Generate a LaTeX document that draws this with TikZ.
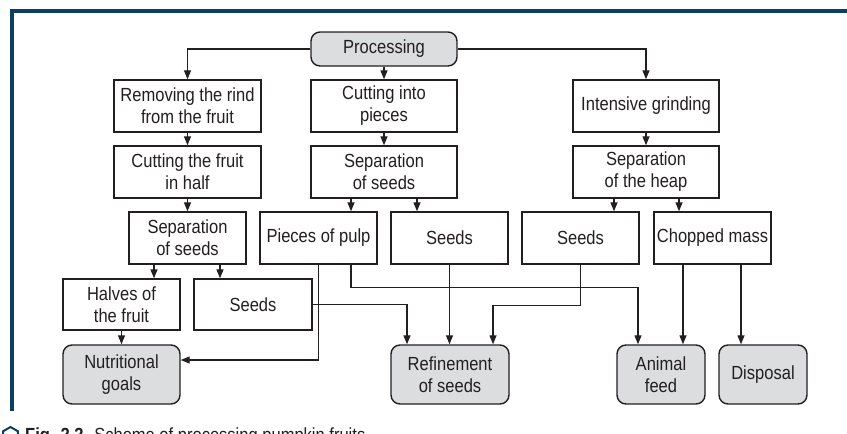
\documentclass[tikz,border=0pt]{standalone}
\usepackage{fontspec}
\setmainfont{Liberation Sans}[FakeStretch=0.87]
\usetikzlibrary{arrows.meta,shapes.geometric}
\definecolor{frameblue}{RGB}{12,62,98}
\definecolor{goalgray}{RGB}{220,221,222}
\definecolor{inkblack}{RGB}{35,31,32}

\begin{document}
\begin{tikzpicture}[x=1pt, y=-1pt,
    every node/.style={font=\fontsize{19}{22}\selectfont, text=inkblack, align=center, inner sep=0pt},
    stage/.style={draw=inkblack, line width=1.4pt, fill=white, minimum width=117pt, minimum height=52pt},
    outcome/.style={stage, fill=goalgray, rounded corners=9pt, minimum height=59pt},
    flow/.style={draw=inkblack, line width=1.3pt, -{Triangle[length=9pt,width=7pt]}}]
        \useasboundingbox (0,0) rectangle (847,434);

        % page frame
        \draw[frameblue, line width=4pt] (11.5,411) -- (11.5,11) -- (847,11);

        % root
        \node[outcome, minimum width=146pt, minimum height=34pt] (proc) at (384,49) {Processing};

        % left branch: halves of the fruit
        \node[stage, minimum width=147pt] (rind) at (187.5,106) {Removing the rind\\from the fruit};
        \node[stage, minimum width=147pt] (half) at (187.5,172) {Cutting the fruit\\in half};
        \node[stage] (sepL) at (187.5,238) {Separation\\of seeds};
        \node[stage, minimum height=51pt] (halves) at (121.5,304.5) {Halves of\\the fruit};
        \node[stage, minimum width=118pt, minimum height=51pt] (seedsL) at (253,304.5) {Seeds};

        % middle branch: pieces
        \node[stage, minimum width=146pt] (pieces) at (384,106) {Cutting into\\pieces};
        \node[stage, minimum width=146pt] (sepM) at (384,172) {Separation\\of seeds};
        \node[stage] (pulp) at (318.5,238) {Pieces of pulp};
        \node[stage] (seedsM) at (449.5,238) {Seeds};

        % right branch: grinding
        \node[stage, minimum width=146pt] (grind) at (646,106) {Intensive grinding};
        \node[stage, minimum width=146pt] (heap) at (646,172) {Separation\\of the heap};
        \node[stage] (seedsR) at (580.5,238) {Seeds};
        \node[stage] (chopped) at (712.5,238) {Chopped mass};

        % end uses
        \node[outcome] (nutri) at (121.5,374.5) {Nutritional\\goals};
        \node[outcome, minimum width=118pt] (refine) at (450,374.5) {Refinement\\of seeds};
        \node[outcome, minimum width=88pt] (feed) at (661,374.5) {Animal\\feed};
        \node[outcome, minimum width=88pt] (disp) at (763,374.5) {Disposal};

        % flows down the branches
        \draw[flow] (proc.west) -| (rind.north);
        \draw[flow] (proc.south) -- (pieces.north);
        \draw[flow] (proc.east) -| (grind.north);
        \draw[flow] (rind) -- (half);
        \draw[flow] (half) -- (sepL);
        \draw[flow] (pieces) -- (sepM);
        \draw[flow] (grind) -- (heap);
        \draw[flow] ([xshift=-33.5]sepL.south) -- ([xshift=-33.5]sepL.south |- halves.north);
        \draw[flow] ([xshift=32.5]sepL.south) -- ([xshift=32.5]sepL.south |- seedsL.north);
        \draw[flow] ([xshift=-33]sepM.south) -- ([xshift=-33]sepM.south |- pulp.north);
        \draw[flow] ([xshift=33]sepM.south) -- ([xshift=33]sepM.south |- seedsM.north);
        \draw[flow] ([xshift=-32]heap.south) -- ([xshift=-32]heap.south |- seedsR.north);
        \draw[flow] ([xshift=33]heap.south) -- ([xshift=33]heap.south |- chopped.north);

        % flows to the end uses
        \draw[flow] (halves) -- (nutri);
        \draw[flow] (pulp.south) |- ([yshift=14.5]nutri.east);
        \draw[flow] ([xshift=32.5]pulp.south) -- ++(0,23) -| ([xshift=-23]feed.north);
        \draw[flow] (seedsL.east) -| ([xshift=-43]refine.north);
        \draw[flow] (seedsM.south) -- (seedsM.south |- refine.north);
        \draw[flow] (seedsR.south) -- ++(0,41) -| ([xshift=43]refine.north);
        \draw[flow] ([xshift=-29.5]chopped.south) -- ([xshift=-29.5]chopped.south |- feed.north);
        \draw[flow] ([xshift=28.5]chopped.south) -- ([xshift=28.5]chopped.south |- disp.north);

        % caption
        \node[regular polygon, regular polygon sides=6, shape border rotate=30, draw=frameblue,
          line width=2pt, minimum size=17pt] (mark) at (10.5,435.5) {};
        \node[anchor=base west] (caption) at (25,441)
          {\textbf{Fig. 2.2.}\hspace{6pt}Scheme of processing pumpkin fruits};
      \end{tikzpicture}
\end{document}
